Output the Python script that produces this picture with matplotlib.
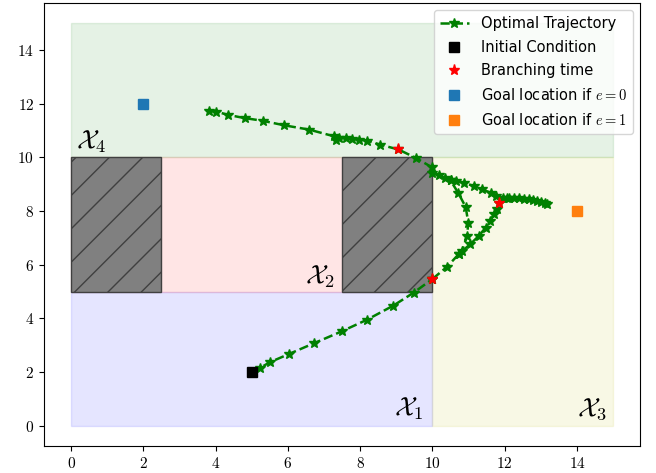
import numpy as np
import matplotlib
matplotlib.use("Agg")
import matplotlib.pyplot as plt
from matplotlib.patches import Rectangle

plt.rcParams['mathtext.fontset'] = 'cm'

# regions: (x0, y0, width, height, color, label, label_x, label_y, ha, va)
regions = [
    (0, 0, 10, 5, 'blue', r'$\mathcal{X}_1$', 9.75, 0.15, 'right', 'bottom'),
    (0, 5, 10, 5, 'red', r'$\mathcal{X}_2$', 7.3, 5.05, 'right', 'bottom'),
    (10, 0, 5, 10, 'y', r'$\mathcal{X}_3$', 14.85, 0.15, 'right', 'bottom'),
    (0, 10, 15, 5, 'green', r'$\mathcal{X}_4$', 0.15, 10.1, 'left', 'bottom'),
]
obstacles = [(0, 5, 2.5, 5), (7.5, 5, 2.5, 5)]

# trajectory pieces
x_root = [5.0, 5.22, 5.5, 6.02, 6.71, 7.49, 8.2, 8.92, 9.48, 10.0]
y_root = [2.0, 2.15, 2.37, 2.67, 3.07, 3.52, 3.96, 4.48, 4.96, 5.47]

x_right = [10.0, 10.41, 10.73, 11.05, 11.28, 11.47, 11.6, 11.7, 11.79, 11.85, 12.05]
y_right = [5.47, 5.93, 6.4, 6.77, 7.07, 7.38, 7.63, 7.88, 8.06, 8.31, 8.48]

x_up = [10.73, 10.82, 10.96, 10.99, 10.92, 10.71, 10.5]
y_up = [6.4, 6.52, 7.07, 7.57, 8.15, 8.68, 9.14]

x_top = [3.81, 4.02, 4.34, 4.8, 5.3, 5.9, 6.59, 7.28, 7.33, 7.42, 7.61, 7.78, 7.97,
         8.2, 8.55, 9.06, 9.55, 9.98, 9.99, 10.18, 10.36, 10.5, 10.64, 10.87, 11.14,
         11.37, 11.61, 11.75, 11.95, 12.11, 12.25, 12.39, 12.52, 12.66, 12.78, 12.89,
         13.0, 13.12, 13.18]
y_top = [11.74, 11.7, 11.58, 11.46, 11.36, 11.19, 11.03, 10.78, 10.66, 10.71, 10.71,
         10.68, 10.66, 10.62, 10.47, 10.29, 9.97, 9.63, 9.42, 9.33, 9.23, 9.14, 9.11,
         9.05, 8.93, 8.81, 8.68, 8.56, 8.5, 8.49, 8.48, 8.47, 8.45, 8.43, 8.4, 8.37,
         8.33, 8.29, 8.27]

x_branch = [10.0, 11.85, 9.06]
y_branch = [5.47, 8.31, 10.29]

x_init, y_init = 5, 2
goal0 = (2, 12)
goal1 = (14, 8)

fig = plt.figure(figsize=(6.56, 4.73), dpi=100)
ax = fig.add_axes([0.067, 0.057, 0.909, 0.937])

for x0, y0, w, h, c, lab, lx, ly, ha, va in regions:
    ax.add_patch(Rectangle((x0, y0), w, h, facecolor=c, alpha=0.1, edgecolor=c, lw=1))
    ax.text(lx, ly, lab, fontsize=19, ha=ha, va=va)

for x0, y0, w, h in obstacles:
    ax.add_patch(Rectangle((x0, y0), w, h, facecolor='gray', edgecolor=(0.25, 0.25, 0.25),
                           hatch='/', lw=1, zorder=2))

for xs, ys in [(x_root, y_root), (x_right, y_right), (x_up, y_up), (x_top, y_top)]:
    ax.plot(xs, ys, 'g--*', lw=1.8, ms=7, zorder=3)

ax.plot([], [], 'g--*', lw=1.8, ms=7, label='Optimal Trajectory')
ax.plot(x_init, y_init, 'ks', ms=7, zorder=4, label='Initial Condition')
ax.plot(x_branch, y_branch, 'r*', ms=8, ls='none', zorder=4, label='Branching time')
ax.plot(*goal0, 's', color='tab:blue', ms=7, label='Goal location if $e=0$')
ax.plot(*goal1, 's', color='tab:orange', ms=7, label='Goal location if $e=1$')

ax.set_xlim(-0.75, 15.75)
ax.set_ylim(-0.75, 15.75)
xt = np.arange(0, 15, 2)
ax.set_xticks(xt)
ax.set_xticklabels([f'${v}$' for v in xt], fontsize=11)
ax.set_yticks(xt)
ax.set_yticklabels([f'${v}$' for v in xt], fontsize=11)

ax.legend(loc='upper right', fontsize=10.5, labelspacing=0.6)

fig.savefig('out.png', dpi=100)
